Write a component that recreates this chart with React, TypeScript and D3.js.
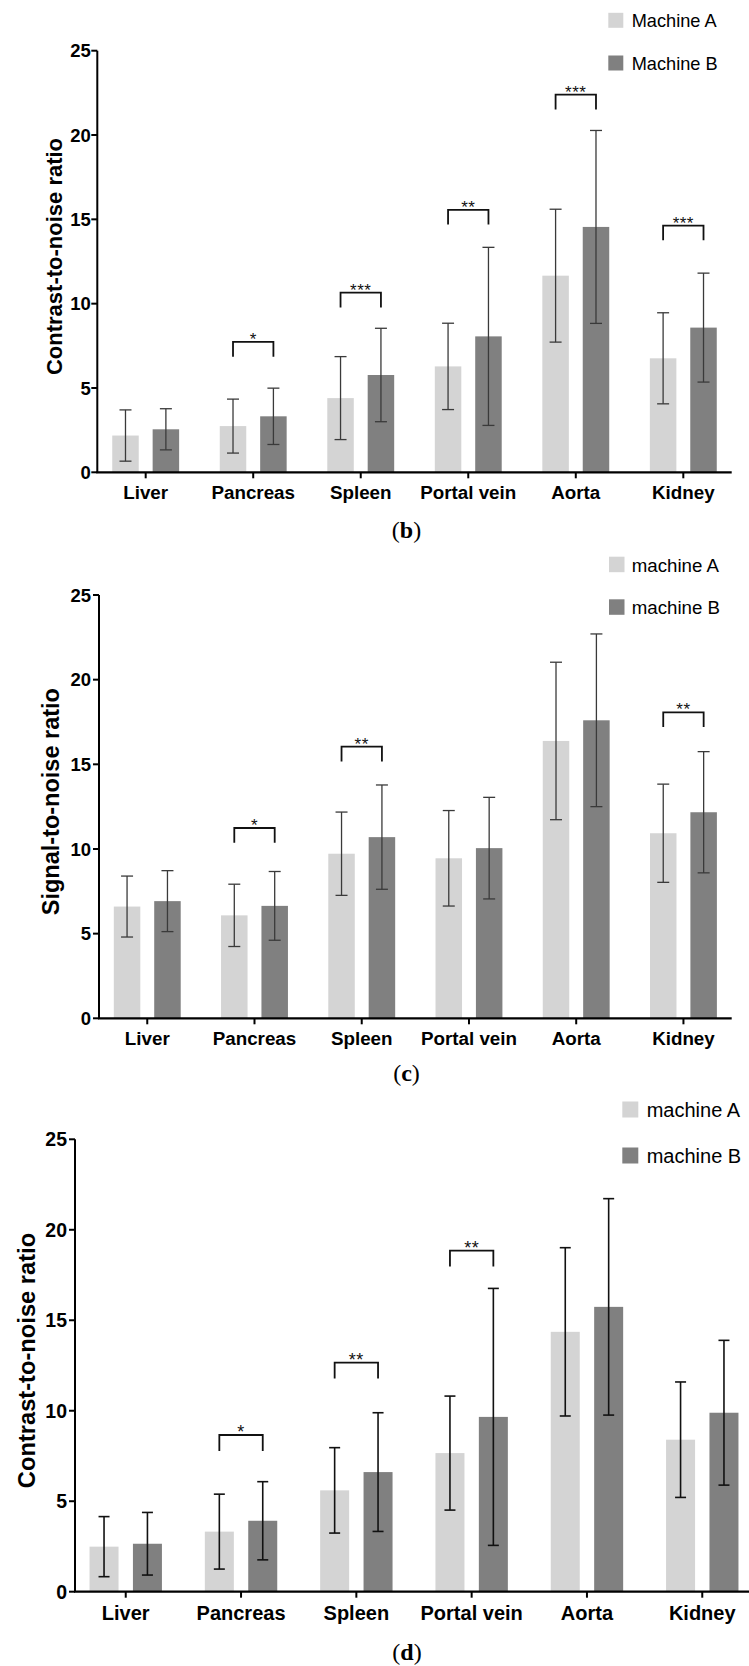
import React from 'react'
import * as d3 from 'd3'

// categories and axis
const organs = ['Liver', 'Pancreas', 'Spleen', 'Portal vein', 'Aorta', 'Kidney']
const yTicks = [0, 5, 10, 15, 20, 25]

// (b) contrast-to-noise ratio
const cnr1MachineA = [2.18, 2.74, 4.4, 6.28, 11.66, 6.76]
const cnr1MachineASd = [1.52, 1.6, 2.46, 2.56, 3.94, 2.7]
const cnr1MachineB = [2.55, 3.32, 5.77, 8.06, 14.55, 8.58]
const cnr1MachineBSd = [1.22, 1.67, 2.77, 5.28, 5.72, 3.23]
const cnr1Stars = ['', '*', '***', '**', '***', '***']
const cnr1BracketAt = [null, 7.73, 10.65, 15.56, 22.39, 14.63]

// (c) signal-to-noise ratio
const snrMachineA = [6.6, 6.08, 9.72, 9.45, 16.38, 10.93]
const snrMachineASd = [1.8, 1.84, 2.46, 2.82, 4.65, 2.9]
const snrMachineB = [6.92, 6.64, 10.7, 10.05, 17.6, 12.17]
const snrMachineBSd = [1.8, 2.03, 3.08, 3.0, 5.1, 3.58]
const snrStars = ['', '*', '**', '', '', '**']
const snrBracketAt = [null, 11.24, 16.04, null, null, 18.07]

// (d) contrast-to-noise ratio
const cnr2MachineA = [2.49, 3.32, 5.6, 7.66, 14.36, 8.4]
const cnr2MachineASd = [1.66, 2.07, 2.36, 3.15, 4.65, 3.19]
const cnr2MachineB = [2.65, 3.92, 6.61, 9.66, 15.74, 9.89]
const cnr2MachineBSd = [1.73, 2.16, 3.28, 7.1, 5.98, 4.0]
const cnr2Stars = ['', '*', '**', '**', '', '']
const cnr2BracketAt = [null, 8.66, 12.66, 18.85, null, null]

const sans = 'Liberation Sans, Arial, Helvetica, sans-serif'
const serif = 'Liberation Serif, Times New Roman, serif'
const colorA = '#d4d4d4'
const colorB = '#808080'

type Layout = {
  x0: number; x1: number; pad: number; yTop: number; yBottom: number
  barOff: number; barW: number; cap: number; errColor: string; errW: number
  yLabelX: number; yLabelSize: number; tickSize: number; tickEnd: number
  catSize: number; catBase: number
  legX: number; legTextX: number; legA: number; legB: number; legSq: number; legSize: number
  capY: number; capX: number; leg: number; starSize: number
}

function Panel({ L, yLabel, legend, meanA, sdA, meanB, sdB, stars, bracketAt, caption }: any) {
  const lay: Layout = L
  const x = d3.scalePoint<string>().domain(organs).range([lay.x0, lay.x1]).padding(lay.pad)
  const y = d3.scaleLinear().domain([0, 25]).range([lay.yBottom, lay.yTop])

  const series = [
    { mean: meanA, sd: sdA, off: -lay.barOff, fill: colorA },
    { mean: meanB, sd: sdB, off: lay.barOff, fill: colorB }
  ]

  return (
    <g fontFamily={sans}>
      {/* bars */}
      {series.map((s, si) =>
        organs.map((o, i) => (
          <rect key={`b${si}${i}`} x={x(o)! + s.off - lay.barW / 2} y={y(s.mean[i])}
            width={lay.barW} height={y(0) - y(s.mean[i])} fill={s.fill} />
        ))
      )}
      {/* error bars */}
      {series.map((s, si) =>
        organs.map((o, i) => {
          const cx = x(o)! + s.off
          const hi = y(s.mean[i] + s.sd[i])
          const lo = y(s.mean[i] - s.sd[i])
          return (
            <g key={`e${si}${i}`} stroke={lay.errColor} strokeWidth={lay.errW}>
              <line x1={cx} x2={cx} y1={hi} y2={lo} />
              <line x1={cx - lay.cap / 2} x2={cx + lay.cap / 2} y1={hi} y2={hi} />
              <line x1={cx - lay.cap / 2} x2={cx + lay.cap / 2} y1={lo} y2={lo} />
            </g>
          )
        })
      )}
      {/* significance brackets */}
      {organs.map((o, i) => {
        if (bracketAt[i] == null) return null
        const xa = x(o)! - lay.barOff
        const xb = x(o)! + lay.barOff
        const by = y(bracketAt[i])
        return (
          <g key={`s${i}`}>
            <path d={`M${xa},${by + lay.leg}V${by}H${xb}V${by + lay.leg}`} fill="none" stroke="#111" strokeWidth={1.8} />
            <text x={(xa + xb) / 2} y={by + 3} textAnchor="middle" fontSize={lay.starSize} fill="#111"
              letterSpacing={0.5}>{stars[i]}</text>
          </g>
        )
      })}
      {/* axes */}
      <line x1={lay.x0} x2={lay.x0} y1={y(25)} y2={y(0)} stroke="#000" strokeWidth={2} />
      <line x1={lay.x0 - 1} x2={lay.x1} y1={y(0)} y2={y(0)} stroke="#000" strokeWidth={2.2} />
      {yTicks.map(t => (
        <g key={`yt${t}`}>
          <line x1={lay.x0 - 6} x2={lay.x0} y1={y(t)} y2={y(t)} stroke="#000" strokeWidth={2} />
          <text x={lay.tickEnd} y={y(t)} dy="0.36em" textAnchor="end" fontSize={lay.tickSize} fontWeight="bold">{t}</text>
        </g>
      ))}
      {organs.map(o => (
        <g key={`xt${o}`}>
          <line x1={x(o)} x2={x(o)} y1={y(0)} y2={y(0) + 6} stroke="#000" strokeWidth={2} />
          <text x={x(o)} y={lay.catBase} textAnchor="middle" fontSize={lay.catSize} fontWeight="bold">{o}</text>
        </g>
      ))}
      <text transform={`translate(${lay.yLabelX},${(y(0) + y(25)) / 2 - 5}) rotate(-90)`} textAnchor="middle"
        fontSize={lay.yLabelSize} fontWeight="bold">{yLabel}</text>
      {/* legend */}
      {legend.map((lbl: string, i: number) => {
        const top = i === 0 ? lay.legA : lay.legB
        return (
          <g key={`l${i}`}>
            <rect x={lay.legX} y={top} width={lay.legSq} height={lay.legSq} fill={i === 0 ? colorA : colorB} />
            <text x={lay.legTextX} y={top + lay.legSq - 0.5} fontSize={lay.legSize}>{lbl}</text>
          </g>
        )
      })}
      <text x={lay.capX} y={lay.capY} textAnchor="middle" fontFamily={serif} fontSize={24}>
        (<tspan fontWeight="bold">{caption}</tspan>)
      </text>
    </g>
  )
}

const layoutB: Layout = {
  x0: 97.3, x1: 731.7, pad: 0.45, yTop: 50.7, yBottom: 472.3,
  barOff: 20.2, barW: 26.5, cap: 12, errColor: '#3a3a3a', errW: 1.3,
  yLabelX: 61.5, yLabelSize: 22, tickSize: 18.5, tickEnd: 90.8,
  catSize: 18.8, catBase: 498.5,
  legX: 608.3, legTextX: 631.7, legA: 12.8, legB: 55.5, legSq: 15, legSize: 18.2,
  capY: 538, capX: 406.5, leg: 14.7, starSize: 17
}

const layoutC: Layout = {
  x0: 99, x1: 731.7, pad: 0.45, yTop: 595, yBottom: 1018.3,
  barOff: 20.2, barW: 26.5, cap: 12, errColor: '#3a3a3a', errW: 1.3,
  yLabelX: 58.5, yLabelSize: 23.5, tickSize: 18.5, tickEnd: 91,
  catSize: 18.8, catBase: 1044.5,
  legX: 609, legTextX: 631.7, legA: 556.7, legB: 599.3, legSq: 15.5, legSize: 18.7,
  capY: 1081, capX: 406.5, leg: 14.7, starSize: 17
}

const layoutD: Layout = {
  x0: 75, x1: 753, pad: 0.44, yTop: 1139.3, yBottom: 1591.7,
  barOff: 21.7, barW: 29, cap: 11, errColor: '#111', errW: 1.6,
  yLabelX: 35, yLabelSize: 23.7, tickSize: 19.5, tickEnd: 67,
  catSize: 20, catBase: 1620,
  legX: 622.3, legTextX: 646.7, legA: 1101.5, legB: 1147.5, legSq: 16, legSize: 20,
  capY: 1660, capX: 407, leg: 16, starSize: 18
}

export default function App() {
  return (
    <svg width={749} height={1666} viewBox="0 0 749 1666"
      style={{ position: 'absolute', left: 0, top: 0, background: '#fff' }}>
      <rect width={749} height={1666} fill="#fff" />
      <Panel L={layoutB} yLabel="Contrast-to-noise ratio" legend={['Machine A', 'Machine B']}
        meanA={cnr1MachineA} sdA={cnr1MachineASd} meanB={cnr1MachineB} sdB={cnr1MachineBSd}
        stars={cnr1Stars} bracketAt={cnr1BracketAt} caption="b" />
      <Panel L={layoutC} yLabel="Signal-to-noise ratio" legend={['machine A', 'machine B']}
        meanA={snrMachineA} sdA={snrMachineASd} meanB={snrMachineB} sdB={snrMachineBSd}
        stars={snrStars} bracketAt={snrBracketAt} caption="c" />
      <Panel L={layoutD} yLabel="Contrast-to-noise ratio" legend={['machine A', 'machine B']}
        meanA={cnr2MachineA} sdA={cnr2MachineASd} meanB={cnr2MachineB} sdB={cnr2MachineBSd}
        stars={cnr2Stars} bracketAt={cnr2BracketAt} caption="d" />
    </svg>
  )
}
